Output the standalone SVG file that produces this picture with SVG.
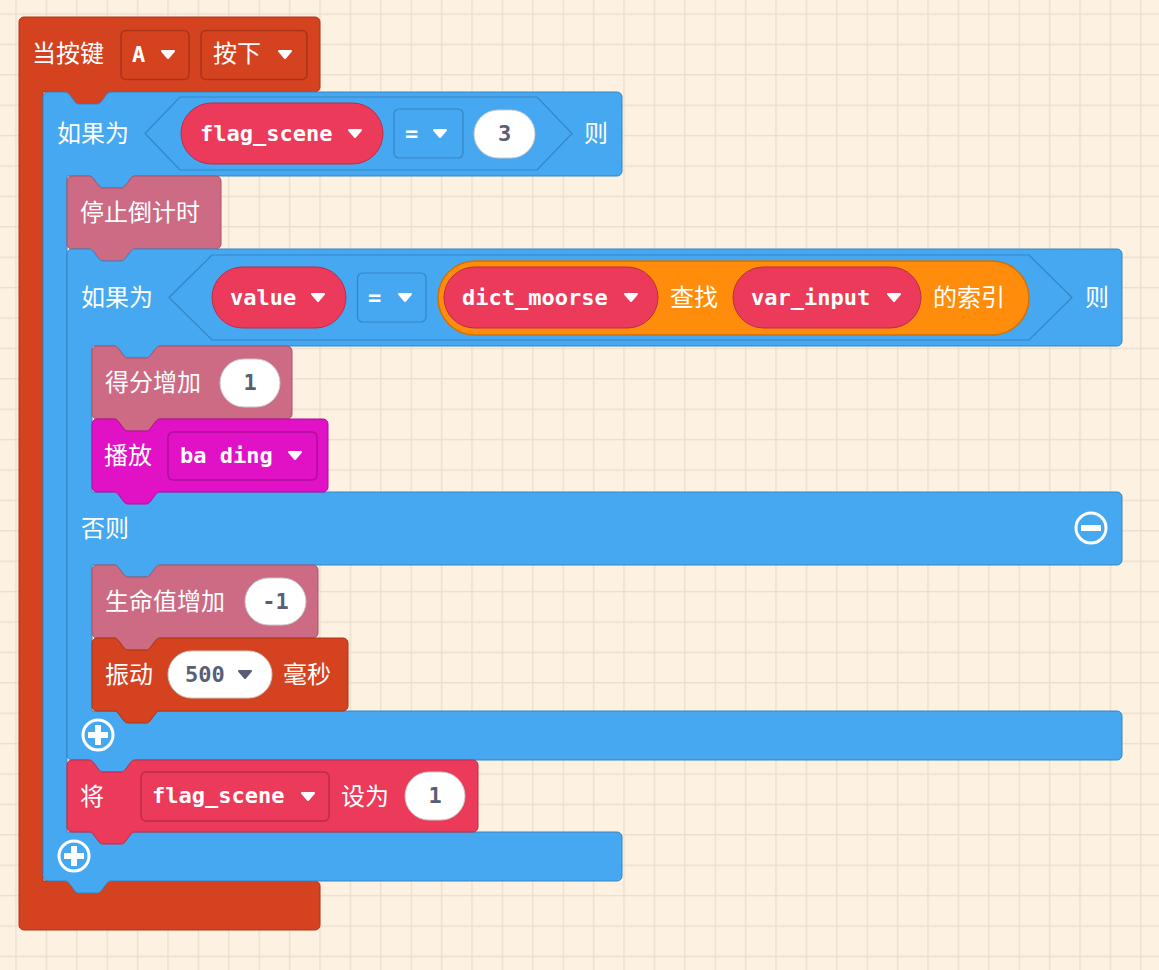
<svg xmlns="http://www.w3.org/2000/svg" xmlns:xlink="http://www.w3.org/1999/xlink" width="1159" height="970" viewBox="0 0 1159 970">
<defs>
<pattern id="grid" patternUnits="userSpaceOnUse" x="15.25" y="13.25" width="30.4" height="30.4">
<rect x="0" y="0" width="30.4" height="1.5" fill="#ecdfcf"/>
<rect x="0" y="0" width="1.5" height="30.4" fill="#ecdfcf"/>
</pattern>
<path id="dd" d="M1,1 h12 l-6,7 z" stroke-linejoin="round" stroke-width="2"/>
</defs>
<style>
.cjk{font-family:"Noto Sans CJK SC","Noto Sans",sans-serif;font-size:24px;fill:#fff}
.mono{font-family:"DejaVu Sans Mono",monospace;font-weight:bold;font-size:22px;fill:#fff}
.num{font-family:"DejaVu Sans Mono",monospace;font-weight:bold;font-size:22px;fill:#575E75;text-anchor:middle}
.dw{fill:#fff;stroke:#fff}
.dk{fill:#575E75;stroke:#575E75}
.event{fill:#D5421F;stroke:#A8341A;stroke-width:1}
.logic{fill:#46A8F0;stroke:#3585C4;stroke-width:1}
.game{fill:#CD6A84;stroke:#A65569;stroke-width:1}
.var{fill:#EB3A5A;stroke:#BC2D47;stroke-width:1}
.music{fill:#E112C6;stroke:#B00C9B;stroke-width:1}
.orange{fill:#FF8C0A;stroke:#CF7106;stroke-width:1.5}
.white{fill:#fff;stroke:#C9C9C9;stroke-width:1}
.icon{fill:none;stroke:#fff;stroke-width:3}
</style>
<rect width="1159" height="970" fill="#fdf2e1"/>
<rect width="1159" height="970" fill="url(#grid)"/>

<g id="event_button">
<path class="event" d="M19,22 a5,5 0 0 1 5,-5 H315 a5,5 0 0 1 5,5 V87 a5,5 0 0 1 -5,5 H111 c -2,0 -3,1 -4,2 l -6,8 c -1,1 -2,2 -4,2 h -18 c -2,0 -3,-1 -4,-2 l -6,-8 c -1,-1 -2,-2 -4,-2 H43 V881 H315 a5,5 0 0 1 5,5 V925 a5,5 0 0 1 -5,5 H24 a5,5 0 0 1 -5,-5 Z"/>
<text class="cjk" x="32" y="62">当按键</text>
<rect x="121" y="30.5" width="68" height="49" rx="5" fill="#D5421F" stroke="#A8341A" stroke-width="1.5"/>
<text class="mono" x="132" y="62">A</text>
<use xlink:href="#dd" class="dw" x="161" y="50"/>
<rect x="201" y="30.5" width="106" height="49" rx="5" fill="#D5421F" stroke="#A8341A" stroke-width="1.5"/>
<text class="cjk" x="213" y="62">按下</text>
<use xlink:href="#dd" class="dw" x="278" y="50"/>
</g>

<g id="if_outer">
<path class="logic" d="M43,97 a5,5 0 0 1 5,-5 H65 c 2,0 3,1 4,2 l 6,8 c 1,1 2,2 4,2 h 18 c 2,0 3,-1 4,-2 l 6,-8 c 1,-1 2,-2 4,-2 H617 a5,5 0 0 1 5,5 V171 a5,5 0 0 1 -5,5 H135 c -2,0 -3,1 -4,2 l -6,8 c -1,1 -2,2 -4,2 h -18 c -2,0 -3,-1 -4,-2 l -6,-8 c -1,-1 -2,-2 -4,-2 H67 V832 H617 a5,5 0 0 1 5,5 V876 a5,5 0 0 1 -5,5 H111 c -2,0 -3,1 -4,2 l -6,8 c -1,1 -2,2 -4,2 h -18 c -2,0 -3,-1 -4,-2 l -6,-8 c -1,-1 -2,-2 -4,-2 H48 a5,5 0 0 1 -5,-5 Z"/>
<text class="cjk" x="57" y="142">如果为</text>
<polygon points="145,133.5 180,97 537,97 572,133.5 537,170 180,170" fill="#46A8F0" stroke="#3585C4" stroke-width="1.2"/>
<rect class="var" x="181" y="103" width="202" height="61" rx="30.5"/>
<text class="mono" x="200" y="140.5">flag_scene</text>
<use xlink:href="#dd" class="dw" x="348" y="129"/>
<rect x="394" y="109" width="69" height="49" rx="5" fill="#46A8F0" stroke="#3585C4" stroke-width="1.2"/>
<text class="mono" x="405" y="140.5">=</text>
<use xlink:href="#dd" class="dw" x="433" y="129"/>
<rect class="white" x="474" y="110" width="61" height="48" rx="24"/>
<text class="num" x="504.5" y="141">3</text>
<text class="cjk" x="584" y="142">则</text>
<circle class="icon" cx="74" cy="856" r="15"/>
<path d="M74,846 V866 M64,856 H84" stroke="#fff" stroke-width="6"/>
</g>

<g id="stop_countdown">
<path class="game" d="M67,181 a5,5 0 0 1 5,-5 H89 c 2,0 3,1 4,2 l 6,8 c 1,1 2,2 4,2 h 18 c 2,0 3,-1 4,-2 l 6,-8 c 1,-1 2,-2 4,-2 H216 a5,5 0 0 1 5,5 V244 a5,5 0 0 1 -5,5 H135 c -2,0 -3,1 -4,2 l -6,8 c -1,1 -2,2 -4,2 h -18 c -2,0 -3,-1 -4,-2 l -6,-8 c -1,-1 -2,-2 -4,-2 H72 a5,5 0 0 1 -5,-5 Z"/>
<text class="cjk" x="80" y="221">停止倒计时</text>
</g>

<g id="if_inner">
<path class="logic" d="M67,254 a5,5 0 0 1 5,-5 H89 c 2,0 3,1 4,2 l 6,8 c 1,1 2,2 4,2 h 18 c 2,0 3,-1 4,-2 l 6,-8 c 1,-1 2,-2 4,-2 H1117 a5,5 0 0 1 5,5 V341 a5,5 0 0 1 -5,5 H160 c -2,0 -3,1 -4,2 l -6,8 c -1,1 -2,2 -4,2 h -18 c -2,0 -3,-1 -4,-2 l -6,-8 c -1,-1 -2,-2 -4,-2 H92 V492 H1117 a5,5 0 0 1 5,5 V560 a5,5 0 0 1 -5,5 H160 c -2,0 -3,1 -4,2 l -6,8 c -1,1 -2,2 -4,2 h -18 c -2,0 -3,-1 -4,-2 l -6,-8 c -1,-1 -2,-2 -4,-2 H92 V711 H1117 a5,5 0 0 1 5,5 V755 a5,5 0 0 1 -5,5 H135 c -2,0 -3,1 -4,2 l -6,8 c -1,1 -2,2 -4,2 h -18 c -2,0 -3,-1 -4,-2 l -6,-8 c -1,-1 -2,-2 -4,-2 H72 a5,5 0 0 1 -5,-5 Z"/>
<text class="cjk" x="81" y="306">如果为</text>
<polygon points="169,297.5 212,255 1029,255 1072,297.5 1029,340 212,340" fill="#46A8F0" stroke="#3585C4" stroke-width="1.2"/>
<rect class="var" x="212" y="267" width="134" height="61" rx="30.5"/>
<text class="mono" x="230" y="304.5">value</text>
<use xlink:href="#dd" class="dw" x="311" y="293"/>
<rect x="357.5" y="273" width="68.5" height="49" rx="5" fill="#46A8F0" stroke="#3585C4" stroke-width="1.2"/>
<text class="mono" x="368" y="304.5">=</text>
<use xlink:href="#dd" class="dw" x="398" y="293"/>
<rect class="orange" x="438" y="261" width="591" height="74" rx="37"/>
<rect class="var" x="444" y="267" width="214" height="61" rx="30.5"/>
<text class="mono" x="462" y="304.5">dict_moorse</text>
<use xlink:href="#dd" class="dw" x="624" y="293"/>
<text class="cjk" x="670" y="306">查找</text>
<rect class="var" x="733" y="267" width="188" height="61" rx="30.5"/>
<text class="mono" x="751" y="304.5">var_input</text>
<use xlink:href="#dd" class="dw" x="887" y="293"/>
<text class="cjk" x="933" y="306">的索引</text>
<text class="cjk" x="1085" y="306">则</text>
<text class="cjk" x="81" y="537">否则</text>
<circle class="icon" cx="1091" cy="528" r="15"/>
<rect x="1081" y="525" width="20" height="6" fill="#fff"/>
<circle class="icon" cx="98" cy="735" r="15"/>
<path d="M98,725 V745 M88,735 H108" stroke="#fff" stroke-width="6"/>
</g>

<g id="score_add">
<path class="game" d="M92,351 a5,5 0 0 1 5,-5 H114 c 2,0 3,1 4,2 l 6,8 c 1,1 2,2 4,2 h 18 c 2,0 3,-1 4,-2 l 6,-8 c 1,-1 2,-2 4,-2 H287 a5,5 0 0 1 5,5 V414 a5,5 0 0 1 -5,5 H160 c -2,0 -3,1 -4,2 l -6,8 c -1,1 -2,2 -4,2 h -18 c -2,0 -3,-1 -4,-2 l -6,-8 c -1,-1 -2,-2 -4,-2 H97 a5,5 0 0 1 -5,-5 Z"/>
<text class="cjk" x="105" y="391">得分增加</text>
<rect class="white" x="220" y="359" width="60" height="48" rx="24"/>
<text class="num" x="250" y="390">1</text>
</g>

<g id="play_sound">
<path class="music" d="M92,424 a5,5 0 0 1 5,-5 H114 c 2,0 3,1 4,2 l 6,8 c 1,1 2,2 4,2 h 18 c 2,0 3,-1 4,-2 l 6,-8 c 1,-1 2,-2 4,-2 H323 a5,5 0 0 1 5,5 V487 a5,5 0 0 1 -5,5 H160 c -2,0 -3,1 -4,2 l -6,8 c -1,1 -2,2 -4,2 h -18 c -2,0 -3,-1 -4,-2 l -6,-8 c -1,-1 -2,-2 -4,-2 H97 a5,5 0 0 1 -5,-5 Z"/>
<text class="cjk" x="104" y="464">播放</text>
<rect x="168" y="432" width="149" height="48" rx="5" fill="#E112C6" stroke="#B00C9B" stroke-width="1.5"/>
<text class="mono" x="180" y="462.5">ba ding</text>
<use xlink:href="#dd" class="dw" x="288" y="451"/>
</g>

<g id="life_add">
<path class="game" d="M92,570 a5,5 0 0 1 5,-5 H114 c 2,0 3,1 4,2 l 6,8 c 1,1 2,2 4,2 h 18 c 2,0 3,-1 4,-2 l 6,-8 c 1,-1 2,-2 4,-2 H313 a5,5 0 0 1 5,5 V633 a5,5 0 0 1 -5,5 H160 c -2,0 -3,1 -4,2 l -6,8 c -1,1 -2,2 -4,2 h -18 c -2,0 -3,-1 -4,-2 l -6,-8 c -1,-1 -2,-2 -4,-2 H97 a5,5 0 0 1 -5,-5 Z"/>
<text class="cjk" x="105" y="610">生命值增加</text>
<rect class="white" x="245" y="578" width="61" height="47" rx="23.5"/>
<text class="num" x="275.5" y="609">-1</text>
</g>

<g id="vibrate">
<path class="event" d="M92,643 a5,5 0 0 1 5,-5 H114 c 2,0 3,1 4,2 l 6,8 c 1,1 2,2 4,2 h 18 c 2,0 3,-1 4,-2 l 6,-8 c 1,-1 2,-2 4,-2 H343 a5,5 0 0 1 5,5 V706 a5,5 0 0 1 -5,5 H160 c -2,0 -3,1 -4,2 l -6,8 c -1,1 -2,2 -4,2 h -18 c -2,0 -3,-1 -4,-2 l -6,-8 c -1,-1 -2,-2 -4,-2 H97 a5,5 0 0 1 -5,-5 Z"/>
<text class="cjk" x="105" y="683">振动</text>
<rect class="white" x="168" y="651" width="104" height="47" rx="23.5"/>
<text class="mono" x="185" y="681.5" style="fill:#575E75">500</text>
<use xlink:href="#dd" class="dk" x="238" y="670"/>
<text class="cjk" x="283" y="683">毫秒</text>
</g>

<g id="set_flag">
<path class="var" d="M67,765 a5,5 0 0 1 5,-5 H89 c 2,0 3,1 4,2 l 6,8 c 1,1 2,2 4,2 h 18 c 2,0 3,-1 4,-2 l 6,-8 c 1,-1 2,-2 4,-2 H473 a5,5 0 0 1 5,5 V827 a5,5 0 0 1 -5,5 H135 c -2,0 -3,1 -4,2 l -6,8 c -1,1 -2,2 -4,2 h -18 c -2,0 -3,-1 -4,-2 l -6,-8 c -1,-1 -2,-2 -4,-2 H72 a5,5 0 0 1 -5,-5 Z"/>
<text class="cjk" x="80" y="804.5">将</text>
<rect x="141" y="772" width="188" height="49" rx="5" fill="#EB3A5A" stroke="#BC2D47" stroke-width="1.5"/>
<text class="mono" x="152" y="803">flag_scene</text>
<use xlink:href="#dd" class="dw" x="301" y="792"/>
<text class="cjk" x="341" y="804.5">设为</text>
<rect class="white" x="405" y="772" width="60" height="48" rx="24"/>
<text class="num" x="435" y="803">1</text>
</g>
</svg>
